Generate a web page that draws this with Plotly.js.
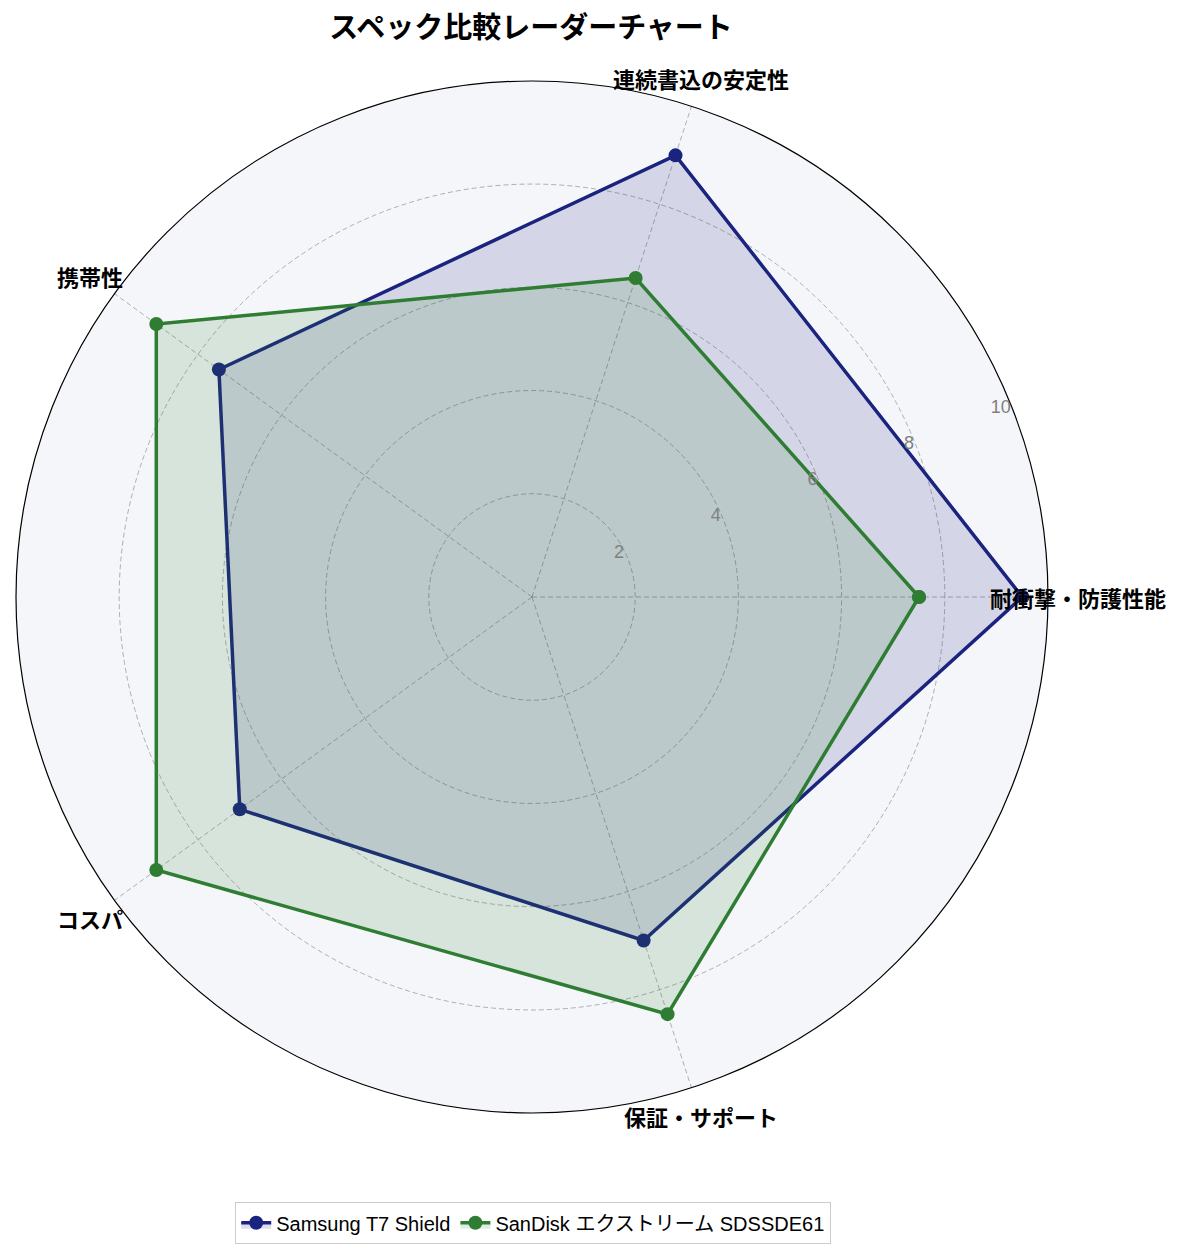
<!DOCTYPE html>
<html>
<head>
<meta charset="utf-8">
<script src="https://cdn.plot.ly/plotly-3.0.1.min.js"></script>
<style>
  html, body { margin: 0; padding: 0; background: #fff; }
  #chart { width: 1185px; height: 1255px; }
</style>
</head>
<body>
<div id="chart"></div>
<script>
const categories = ['耐衝撃・防護性能', '連続書込の安定性', '携帯性', 'コスパ', '保証・サポート'];
const samsungValues = [9.5, 9.0, 7.5, 7.0, 7.0];
const sandiskValues = [7.5, 6.5, 9.0, 9.0, 8.5];
const radialTicks = [2, 4, 6, 8, 10];

const W = 1185, H = 1255;
const jpFont = '"Noto Sans CJK JP", "Noto Sans", sans-serif';
const latinFont = '"Liberation Sans", "Noto Sans CJK JP", sans-serif';

// polar area in pixels (square, centred on the ring centre)
const cx = 532, cy = 597, R = 516;
const domainX = [(cx - R) / W, (cx + R) / W];
const domainY = [(H - cy - R) / H, (H - cy + R) / H];

const closed = arr => arr.concat(arr[0]);

const samsung = {
  type: 'scatterpolar',
  r: closed(samsungValues),
  theta: closed(categories),
  mode: 'lines+markers',
  name: 'Samsung T7 Shield',
  line: { color: '#1a237e', width: 3.5 },
  marker: { color: '#1a237e', size: 14 },
  fill: 'toself',
  fillcolor: 'rgba(26,35,126,0.15)',
  cliponaxis: false,
};

const sandisk = {
  type: 'scatterpolar',
  r: closed(sandiskValues),
  theta: closed(categories),
  mode: 'lines+markers',
  name: 'SanDisk エクストリーム SDSSDE61',
  line: { color: '#2e7d32', width: 3.5 },
  marker: { color: '#2e7d32', size: 14 },
  fill: 'toself',
  fillcolor: 'rgba(46,125,50,0.15)',
  cliponaxis: false,
};

// category labels: centred on each spoke just past the outer ring
const labelRadius = 1.058;
const categoryLabels = categories.map((c, i) => {
  const a = i * 2 * Math.PI / categories.length;
  return {
    text: '<b>' + c + '</b>',
    xref: 'paper', yref: 'paper',
    x: (cx + R * labelRadius * Math.cos(a)) / W,
    y: (H - cy + R * labelRadius * Math.sin(a)) / H,
    xanchor: 'center', yanchor: 'middle',
    showarrow: false,
    font: { family: jpFont, size: 22, color: '#000' },
  };
});

const layout = {
  width: W,
  height: H,
  margin: { l: 0, r: 0, t: 0, b: 0 },
  paper_bgcolor: '#fff',
  font: { family: jpFont },
  title: {
    text: '<b>スペック比較レーダーチャート</b>',
    font: { family: jpFont, size: 29, color: '#000' },
    x: 531 / W,
    xanchor: 'center',
    y: 1 - 28 / H,
    yanchor: 'middle',
  },
  annotations: categoryLabels,
  polar: {
    domain: { x: domainX, y: domainY },
    bgcolor: '#f5f6fa',
    gridshape: 'circular',
    radialaxis: {
      range: [0, 10],
      tickvals: radialTicks,
      ticktext: radialTicks.map(String),
      angle: 20.5,
      side: 'counterclockwise',
      tickangle: 20.5,
      showline: false,
      ticks: '',
      tickfont: { family: latinFont, size: 18, color: '#808080' },
      gridcolor: 'rgba(128,128,128,0.6)',
      griddash: '5px,3px',
      gridwidth: 0.8,
    },
    angularaxis: {
      type: 'category',
      categoryarray: categories,
      direction: 'counterclockwise',
      rotation: 0,
      showticklabels: false,
      ticks: '',
      showline: true,
      linecolor: '#000',
      linewidth: 1.2,
      gridcolor: 'rgba(128,128,128,0.6)',
      griddash: '5px,3px',
      gridwidth: 0.8,
    },
  },
  showlegend: true,
  legend: {
    orientation: 'h',
    x: 533 / W,
    xanchor: 'center',
    y: (H - 1223) / H,
    yanchor: 'middle',
    bordercolor: '#cccccc',
    borderwidth: 1.2,
    bgcolor: '#fff',
    itemwidth: 30,
    font: { family: latinFont, size: 20, color: '#000' },
  },
};

Plotly.newPlot('chart', [samsung, sandisk], layout, { displayModeBar: false });
</script>
</body>
</html>
